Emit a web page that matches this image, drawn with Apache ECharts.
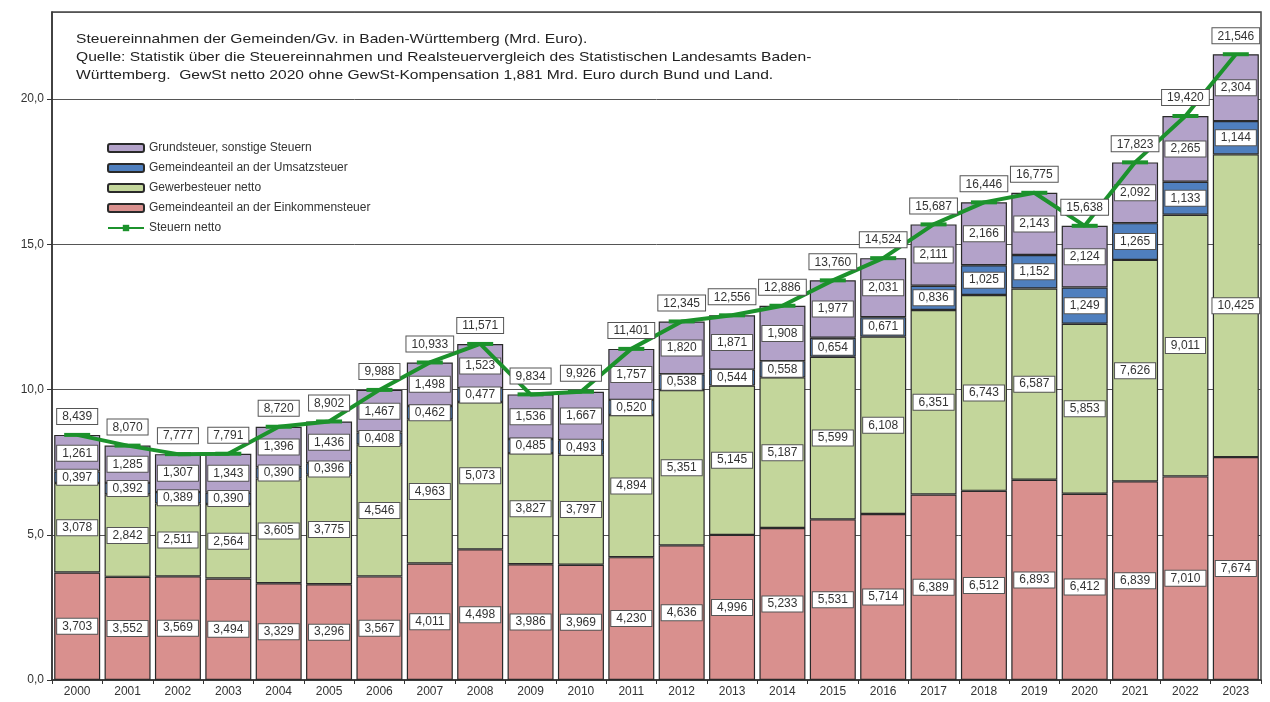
<!DOCTYPE html>
<html><head><meta charset="utf-8">
<script src="https://cdn.jsdelivr.net/npm/echarts@6/dist/echarts.min.js"></script>
<style>html,body{margin:0;padding:0;background:#fff}#c{width:1270px;height:702px}</style>
</head><body><div id="c"></div>
<script>
const years = ['2000','2001','2002','2003','2004','2005','2006','2007','2008','2009','2010','2011','2012','2013','2014','2015','2016','2017','2018','2019','2020','2021','2022','2023'];
const einkommensteuer = [3.703,3.552,3.569,3.494,3.329,3.296,3.567,4.011,4.498,3.986,3.969,4.230,4.636,4.996,5.233,5.531,5.714,6.389,6.512,6.893,6.412,6.839,7.010,7.674];
const gewerbesteuer = [3.078,2.842,2.511,2.564,3.605,3.775,4.546,4.963,5.073,3.827,3.797,4.894,5.351,5.145,5.187,5.599,6.108,6.351,6.743,6.587,5.853,7.626,9.011,10.425];
const umsatzsteuer = [0.397,0.392,0.389,0.390,0.390,0.396,0.408,0.462,0.477,0.485,0.493,0.520,0.538,0.544,0.558,0.654,0.671,0.836,1.025,1.152,1.249,1.265,1.133,1.144];
const grundsteuer = [1.261,1.285,1.307,1.343,1.396,1.436,1.467,1.498,1.523,1.536,1.667,1.757,1.820,1.871,1.908,1.977,2.031,2.111,2.166,2.143,2.124,2.092,2.265,2.304];
const steuernNetto = [8.439,8.070,7.777,7.791,8.720,8.902,9.988,10.933,11.571,9.834,9.926,11.401,12.345,12.556,12.886,13.760,14.524,15.687,16.446,16.775,15.638,17.823,19.420,21.546];
const yTicks = [0,5,10,15,20];
const titleLines = [
  'Steuereinnahmen der Gemeinden/Gv. in Baden-Württemberg (Mrd. Euro).',
  'Quelle: Statistik über die Steuereinnahmen und Realsteuervergleich des Statistischen Landesamts Baden-',
  'Württemberg.  GewSt netto 2020 ohne GewSt-Kompensation 1,881 Mrd. Euro durch Bund und Land.'
];

const FONT = 'Liberation Sans';
const fmt3 = v => v.toFixed(3).replace('.', ',');
const labelBox = {
  show: true, position: 'inside', fontFamily: FONT, fontSize: 12, color: '#333',
  backgroundColor: '#fff', borderColor: '#555', borderWidth: 1, padding: [2, 5, 1, 5],
  formatter: p => fmt3(p.value)
};
function barSeries(name, data, color) {
  return {
    name, type: 'bar', stack: 'total', data, barWidth: 46,
    itemStyle: { color, borderColor: '#2a2a2a', borderWidth: 1.2 },
    label: labelBox, z: 2
  };
}
const chart = echarts.init(document.getElementById('c'), null, { renderer: 'canvas' });
chart.setOption({
  animation: false,
  backgroundColor: '#fff',
  textStyle: { fontFamily: FONT },
  graphic: [{
    type: 'text', x: 76, y: 30, scaleX: 1.2, scaleY: 1, z: 10,
    style: { text: titleLines.join('\n'), fontFamily: FONT, fontSize: 13, lineHeight: 18, fill: '#222' }
  }],
  legend: {
    orient: 'vertical', left: 102, top: 137, itemWidth: 36, itemHeight: 8, itemGap: 8,
    textStyle: { fontFamily: FONT, fontSize: 12, color: '#333' },
    data: ['Grundsteuer, sonstige Steuern', 'Gemeindeanteil an der Umsatzsteuer', 'Gewerbesteuer netto', 'Gemeindeanteil an der Einkommensteuer', 'Steuern netto']
  },
  grid: { left: 52, right: 9, top: 12, bottom: 22, show: true, borderColor: '#444', borderWidth: 1.5 },
  xAxis: {
    type: 'category', data: years,
    axisLine: { lineStyle: { color: '#333', width: 1.5 } },
    axisTick: { show: true, lineStyle: { color: '#333' }, length: 4 },
    axisLabel: { fontFamily: FONT, fontSize: 12, color: '#333', margin: 6 }
  },
  yAxis: {
    type: 'value', min: 0, max: 23, interval: 5,
    axisLine: { show: true, lineStyle: { color: '#333', width: 1.5 } },
    axisTick: { show: true, length: 5, lineStyle: { color: '#333' } },
    axisLabel: { fontFamily: FONT, fontSize: 12, color: '#333', margin: 8, showMaxLabel: false,
      formatter: v => yTicks.includes(v) ? v.toFixed(1).replace('.', ',') : '' },
    splitLine: { show: true, lineStyle: { color: '#555', width: 1 } }
  },
  series: [
    barSeries('Gemeindeanteil an der Einkommensteuer', einkommensteuer, '#D9908E'),
    barSeries('Gewerbesteuer netto', gewerbesteuer, '#C3D69B'),
    barSeries('Gemeindeanteil an der Umsatzsteuer', umsatzsteuer, '#4F7FBE'),
    barSeries('Grundsteuer, sonstige Steuern', grundsteuer, '#B3A2C9'),
    {
      name: 'Steuern netto', type: 'line', data: steuernNetto, z: 5,
      lineStyle: { color: '#1C922C', width: 4 },
      itemStyle: { color: '#1C922C' },
      symbol: 'rect', symbolSize: [26, 4], showSymbol: true,
      label: Object.assign({}, labelBox, { position: 'top', distance: 9 })
    }
  ]
});
</script></body></html>
